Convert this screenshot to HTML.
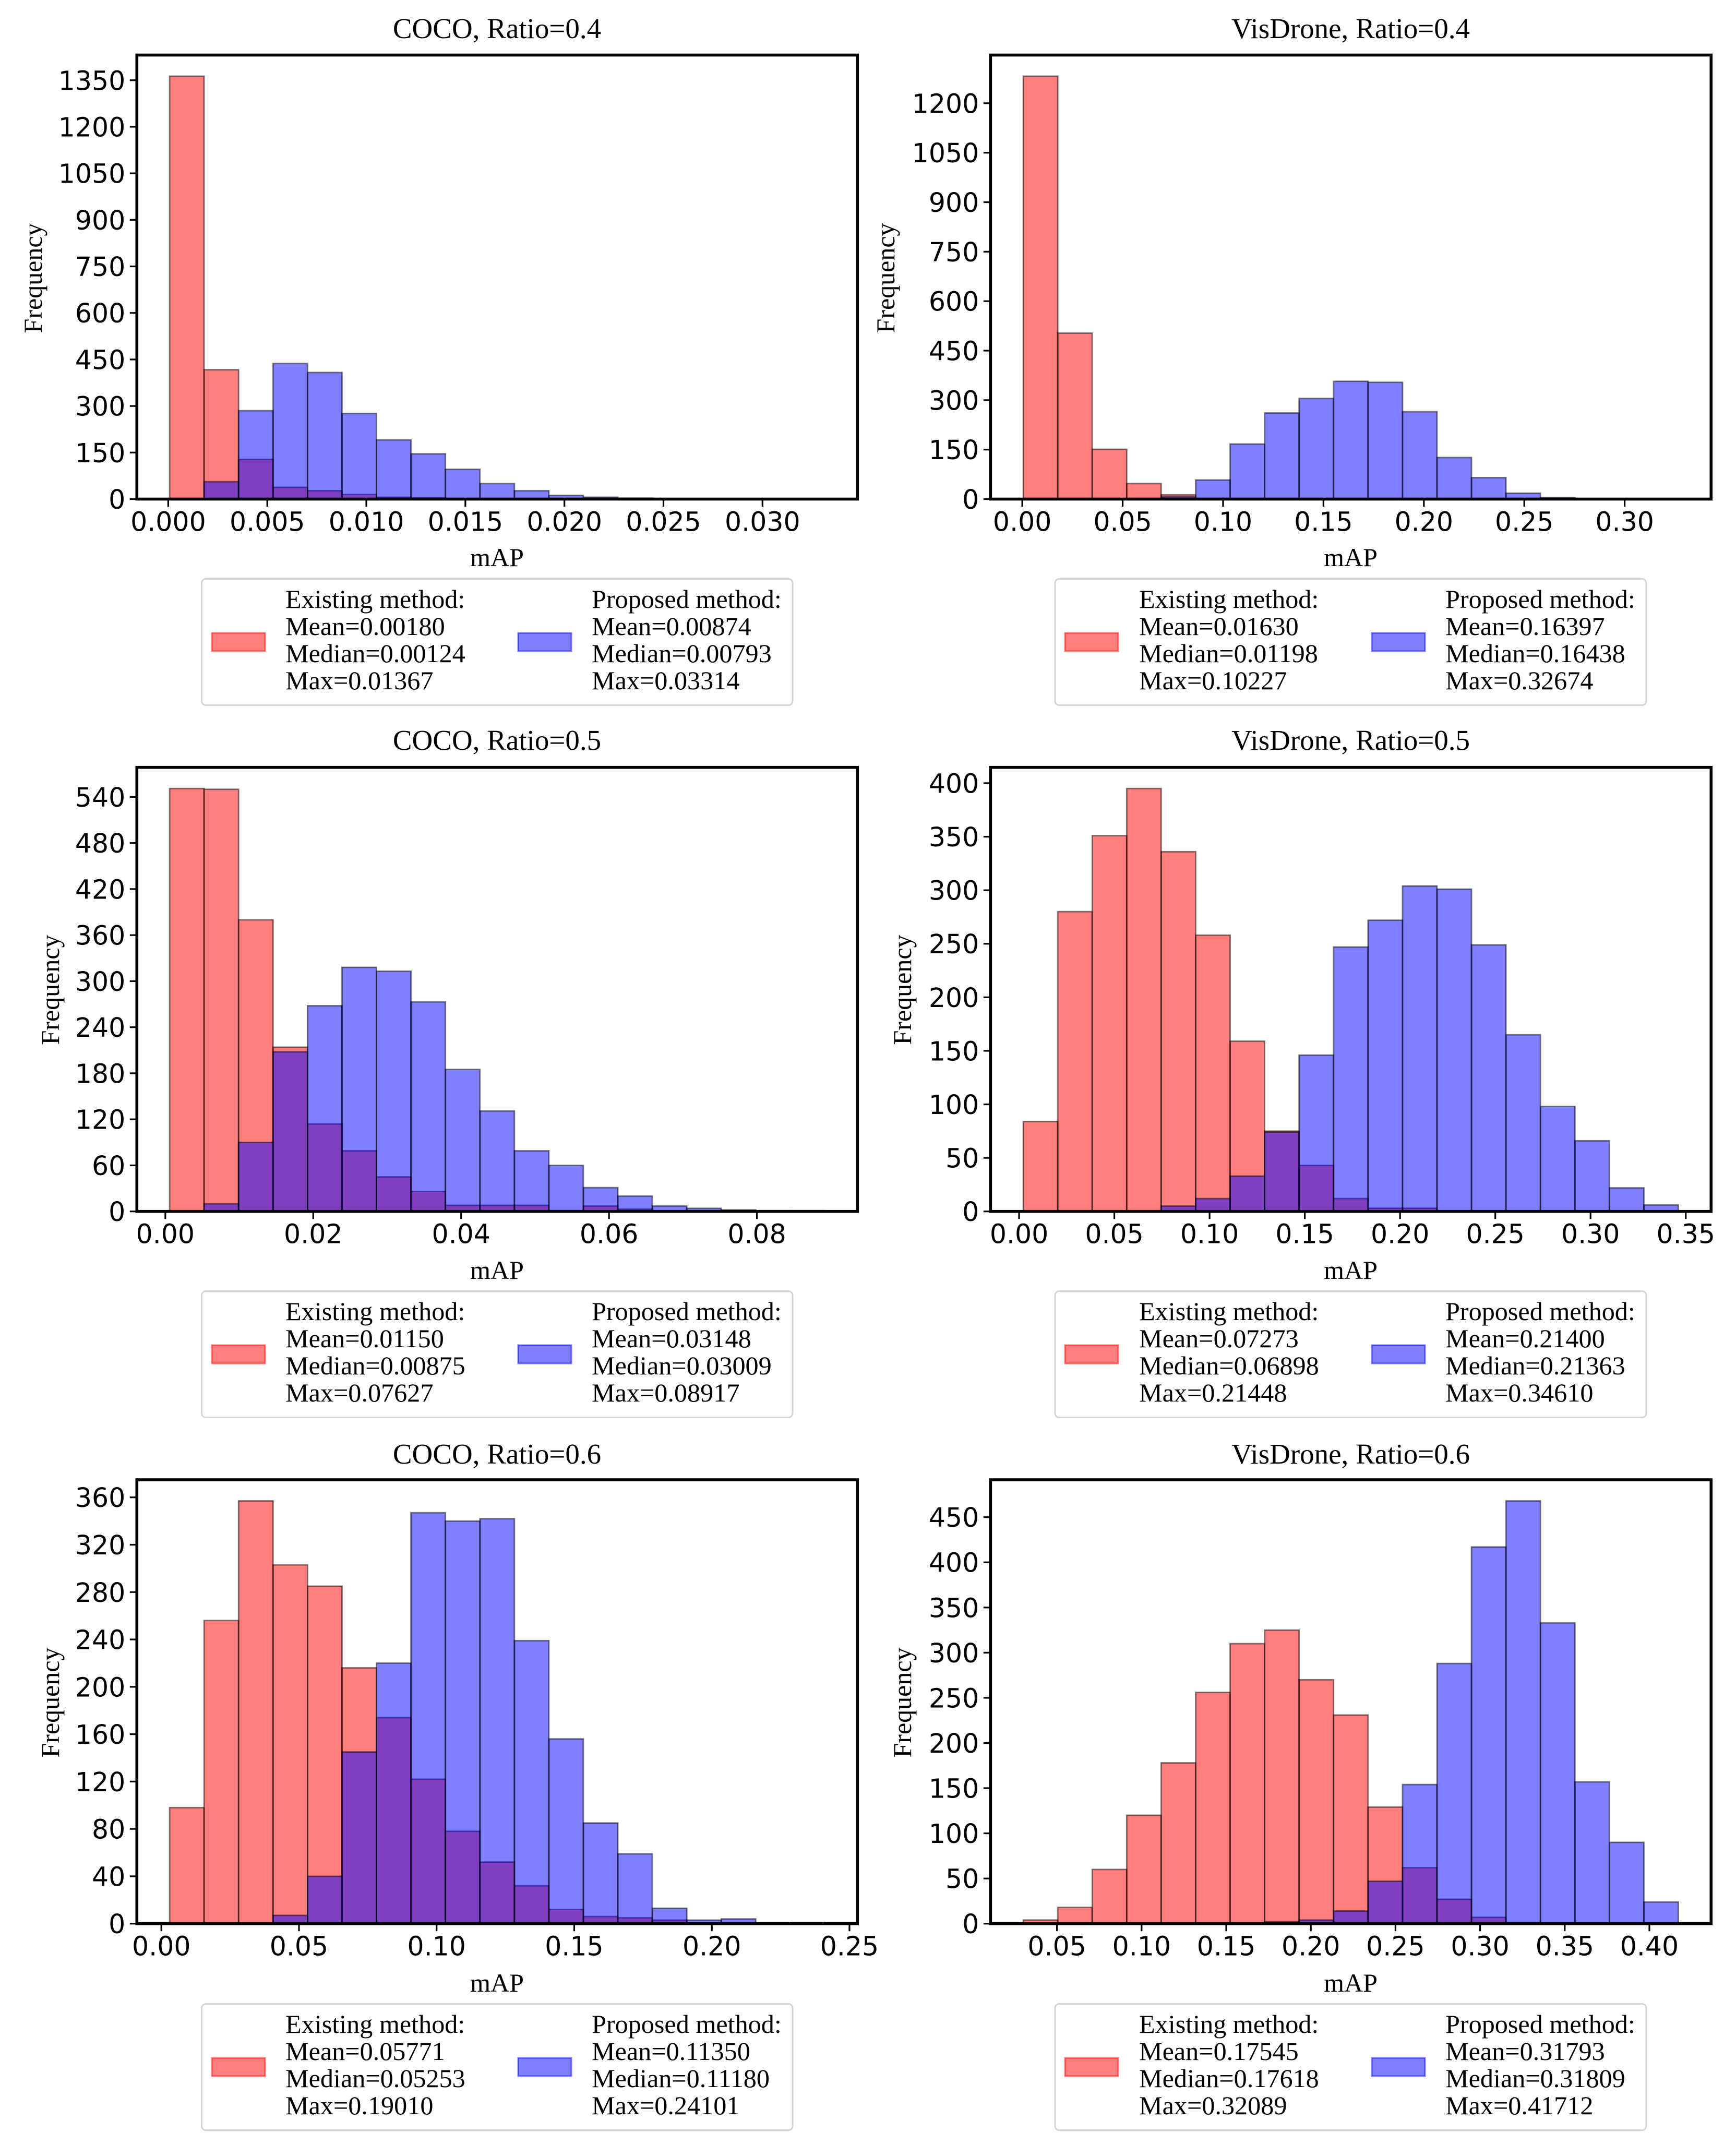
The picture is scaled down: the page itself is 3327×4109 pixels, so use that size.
<!DOCTYPE html>
<html lang="en">
<head>
<meta charset="utf-8">
<title>mAP histograms: COCO and VisDrone</title>
<style>
html,body{margin:0;padding:0;background:#fff;}
svg{display:block;}
.serif{font-family:"Liberation Serif",serif;fill:#000;}
.title{font-size:55px;text-anchor:middle;}
.axis-label{font-size:50px;}
.legend-text{font-size:50.2px;}
.tick{font-family:"DejaVu Sans",sans-serif;font-size:50.5px;fill:#000;}
.frame{fill:#fff;stroke:#d4d4d4;stroke-width:3;}
.patch-red{fill:rgba(255,0,0,.5);stroke:rgba(255,0,0,.5);stroke-width:3;}
.patch-blue{fill:rgba(0,0,255,.5);stroke:rgba(0,0,255,.5);stroke-width:3;}
</style>
</head>
<body>
<svg id="figure" xmlns="http://www.w3.org/2000/svg" width="3327" height="4109" viewBox="0 0 3327 4109">
<rect width="3327" height="4109" fill="#fff"/>

<g id="coco-04">
  <text class="serif title" x="952.5" y="73">COCO, Ratio=0.4</text>
  <text class="serif axis-label" x="952.5" y="1085" text-anchor="middle">mAP</text>
  <text class="serif axis-label" text-anchor="middle" transform="translate(80,533) rotate(-90)">Frequency</text>
  <g>
    <rect class="frame" x="386.5" y="1109.5" width="1132.5" height="242" rx="8"/>
    <g>
      <rect class="patch-red" x="406" y="1213" width="102" height="35"/>
      <text class="serif legend-text" x="547" y="1165">Existing method:</text>
      <text class="serif legend-text" x="547" y="1217">Mean=0.00180</text>
      <text class="serif legend-text" x="547" y="1269">Median=0.00124</text>
      <text class="serif legend-text" x="547" y="1321">Max=0.01367</text>
    </g>
    <g>
      <rect class="patch-blue" x="993" y="1213" width="102" height="35"/>
      <text class="serif legend-text" x="1134" y="1165">Proposed method:</text>
      <text class="serif legend-text" x="1134" y="1217">Mean=0.00874</text>
      <text class="serif legend-text" x="1134" y="1269">Median=0.00793</text>
      <text class="serif legend-text" x="1134" y="1321">Max=0.03314</text>
    </g>
  </g>
</g>

<g id="visdrone-04">
  <text class="serif title" x="2588.5" y="73">VisDrone, Ratio=0.4</text>
  <text class="serif axis-label" x="2588.5" y="1085" text-anchor="middle">mAP</text>
  <text class="serif axis-label" text-anchor="middle" transform="translate(1714,533) rotate(-90)">Frequency</text>
  <g>
    <rect class="frame" x="2022" y="1109.5" width="1133" height="242" rx="8"/>
    <g>
      <rect class="patch-red" x="2041" y="1213" width="102" height="35"/>
      <text class="serif legend-text" x="2183" y="1165">Existing method:</text>
      <text class="serif legend-text" x="2183" y="1217">Mean=0.01630</text>
      <text class="serif legend-text" x="2183" y="1269">Median=0.01198</text>
      <text class="serif legend-text" x="2183" y="1321">Max=0.10227</text>
    </g>
    <g>
      <rect class="patch-blue" x="2629" y="1213" width="102" height="35"/>
      <text class="serif legend-text" x="2770" y="1165">Proposed method:</text>
      <text class="serif legend-text" x="2770" y="1217">Mean=0.16397</text>
      <text class="serif legend-text" x="2770" y="1269">Median=0.16438</text>
      <text class="serif legend-text" x="2770" y="1321">Max=0.32674</text>
    </g>
  </g>
</g>

<g id="coco-05">
  <text class="serif title" x="952.5" y="1437">COCO, Ratio=0.5</text>
  <text class="serif axis-label" x="952.5" y="2451" text-anchor="middle">mAP</text>
  <text class="serif axis-label" text-anchor="middle" transform="translate(113,1897) rotate(-90)">Frequency</text>
  <g>
    <rect class="frame" x="386.5" y="2474.5" width="1132.5" height="242" rx="8"/>
    <g>
      <rect class="patch-red" x="406" y="2578" width="102" height="35"/>
      <text class="serif legend-text" x="547" y="2530">Existing method:</text>
      <text class="serif legend-text" x="547" y="2582">Mean=0.01150</text>
      <text class="serif legend-text" x="547" y="2634">Median=0.00875</text>
      <text class="serif legend-text" x="547" y="2686">Max=0.07627</text>
    </g>
    <g>
      <rect class="patch-blue" x="993" y="2578" width="102" height="35"/>
      <text class="serif legend-text" x="1134" y="2530">Proposed method:</text>
      <text class="serif legend-text" x="1134" y="2582">Mean=0.03148</text>
      <text class="serif legend-text" x="1134" y="2634">Median=0.03009</text>
      <text class="serif legend-text" x="1134" y="2686">Max=0.08917</text>
    </g>
  </g>
</g>

<g id="visdrone-05">
  <text class="serif title" x="2588.5" y="1437">VisDrone, Ratio=0.5</text>
  <text class="serif axis-label" x="2588.5" y="2451" text-anchor="middle">mAP</text>
  <text class="serif axis-label" text-anchor="middle" transform="translate(1746,1897) rotate(-90)">Frequency</text>
  <g>
    <rect class="frame" x="2022" y="2474.5" width="1133" height="242" rx="8"/>
    <g>
      <rect class="patch-red" x="2041" y="2578" width="102" height="35"/>
      <text class="serif legend-text" x="2183" y="2530">Existing method:</text>
      <text class="serif legend-text" x="2183" y="2582">Mean=0.07273</text>
      <text class="serif legend-text" x="2183" y="2634">Median=0.06898</text>
      <text class="serif legend-text" x="2183" y="2686">Max=0.21448</text>
    </g>
    <g>
      <rect class="patch-blue" x="2629" y="2578" width="102" height="35"/>
      <text class="serif legend-text" x="2770" y="2530">Proposed method:</text>
      <text class="serif legend-text" x="2770" y="2582">Mean=0.21400</text>
      <text class="serif legend-text" x="2770" y="2634">Median=0.21363</text>
      <text class="serif legend-text" x="2770" y="2686">Max=0.34610</text>
    </g>
  </g>
</g>

<g id="coco-06">
  <text class="serif title" x="952.5" y="2805">COCO, Ratio=0.6</text>
  <text class="serif axis-label" x="952.5" y="3817" text-anchor="middle">mAP</text>
  <text class="serif axis-label" text-anchor="middle" transform="translate(113,3263) rotate(-90)">Frequency</text>
  <g>
    <rect class="frame" x="386.5" y="3840.5" width="1132.5" height="242" rx="8"/>
    <g>
      <rect class="patch-red" x="406" y="3944" width="102" height="35"/>
      <text class="serif legend-text" x="547" y="3896">Existing method:</text>
      <text class="serif legend-text" x="547" y="3948">Mean=0.05771</text>
      <text class="serif legend-text" x="547" y="4000">Median=0.05253</text>
      <text class="serif legend-text" x="547" y="4052">Max=0.19010</text>
    </g>
    <g>
      <rect class="patch-blue" x="993" y="3944" width="102" height="35"/>
      <text class="serif legend-text" x="1134" y="3896">Proposed method:</text>
      <text class="serif legend-text" x="1134" y="3948">Mean=0.11350</text>
      <text class="serif legend-text" x="1134" y="4000">Median=0.11180</text>
      <text class="serif legend-text" x="1134" y="4052">Max=0.24101</text>
    </g>
  </g>
</g>

<g id="visdrone-06">
  <text class="serif title" x="2588.5" y="2805">VisDrone, Ratio=0.6</text>
  <text class="serif axis-label" x="2588.5" y="3817" text-anchor="middle">mAP</text>
  <text class="serif axis-label" text-anchor="middle" transform="translate(1746,3263) rotate(-90)">Frequency</text>
  <g>
    <rect class="frame" x="2022" y="3840.5" width="1133" height="242" rx="8"/>
    <g>
      <rect class="patch-red" x="2041" y="3944" width="102" height="35"/>
      <text class="serif legend-text" x="2183" y="3896">Existing method:</text>
      <text class="serif legend-text" x="2183" y="3948">Mean=0.17545</text>
      <text class="serif legend-text" x="2183" y="4000">Median=0.17618</text>
      <text class="serif legend-text" x="2183" y="4052">Max=0.32089</text>
    </g>
    <g>
      <rect class="patch-blue" x="2629" y="3944" width="102" height="35"/>
      <text class="serif legend-text" x="2770" y="3896">Proposed method:</text>
      <text class="serif legend-text" x="2770" y="3948">Mean=0.31793</text>
      <text class="serif legend-text" x="2770" y="4000">Median=0.31809</text>
      <text class="serif legend-text" x="2770" y="4052">Max=0.41712</text>
    </g>
  </g>
</g>
</svg>

<script>
// Histogram counts per bin (19 bins each)
const cocoR4Existing = [1363,417,128,38,27,15,6,4,1,0,0,0,0,0,0,0,0,0,0];
const cocoR4Proposed = [0,56,285,437,408,276,191,146,96,50,27,12,6,3,1,0,0,0,1];
const cocoR4BinRange = [0.00007,0.03314];
const cocoR4XTickLabels = ['0.000','0.005','0.010','0.015','0.020','0.025','0.030'];
const cocoR4YTickLabels = ['0','150','300','450','600','750','900','1050','1200','1350'];

const visR4Existing = [1282,503,151,47,13,2,0,0,0,0,0,0,0,0,0,0,0,0,0];
const visR4Proposed = [0,0,0,0,7,58,167,261,305,357,354,265,126,65,18,5,1,0,1];
const visR4BinRange = [0.0005,0.32674];
const visR4XTickLabels = ['0.00','0.05','0.10','0.15','0.20','0.25','0.30'];
const visR4YTickLabels = ['0','150','300','450','600','750','900','1050','1200'];

const cocoR5Existing = [551,550,380,214,114,79,45,26,8,8,8,1,7,3,0,1,1,0,0];
const cocoR5Proposed = [0,10,90,208,268,318,313,273,185,131,79,60,31,20,7,4,2,1,1];
const cocoR5BinRange = [0.00058,0.08917];
const cocoR5XTickLabels = ['0.00','0.02','0.04','0.06','0.08'];
const cocoR5YTickLabels = ['0','60','120','180','240','300','360','420','480','540'];

const visR5Existing = [84,280,351,395,336,258,159,75,43,12,3,3,0,0,0,0,0,0,0];
const visR5Proposed = [0,0,0,0,5,12,33,74,146,247,272,304,301,249,165,98,66,22,6];
const visR5BinRange = [0.0022,0.3461];
const visR5XTickLabels = ['0.00','0.05','0.10','0.15','0.20','0.25','0.30','0.35'];
const visR5YTickLabels = ['0','50','100','150','200','250','300','350','400'];

const cocoR6Existing = [98,256,357,303,285,216,174,122,78,52,32,12,6,5,3,1,0,0,0];
const cocoR6Proposed = [0,0,0,7,40,145,220,347,340,342,239,156,85,59,13,3,4,0,1];
const cocoR6BinRange = [0.003,0.24101];
const cocoR6XTickLabels = ['0.00','0.05','0.10','0.15','0.20','0.25'];
const cocoR6YTickLabels = ['0','40','80','120','160','200','240','280','320','360'];

const visR6Existing = [4,18,60,120,178,256,310,325,270,231,129,62,27,7,1,0,0,0,0];
const visR6Proposed = [0,0,0,0,0,0,0,2,4,14,47,154,288,417,468,333,157,90,24];
const visR6BinRange = [0.0301,0.41712];
const visR6XTickLabels = ['0.05','0.10','0.15','0.20','0.25','0.30','0.35','0.40'];
const visR6YTickLabels = ['0','50','100','150','200','250','300','350','400','450'];

const panels = [
  {id:'coco-04',col:0,row:0,existing:cocoR4Existing,proposed:cocoR4Proposed,range:cocoR4BinRange,xLabels:cocoR4XTickLabels,yLabels:cocoR4YTickLabels},
  {id:'visdrone-04',col:1,row:0,existing:visR4Existing,proposed:visR4Proposed,range:visR4BinRange,xLabels:visR4XTickLabels,yLabels:visR4YTickLabels},
  {id:'coco-05',col:0,row:1,existing:cocoR5Existing,proposed:cocoR5Proposed,range:cocoR5BinRange,xLabels:cocoR5XTickLabels,yLabels:cocoR5YTickLabels},
  {id:'visdrone-05',col:1,row:1,existing:visR5Existing,proposed:visR5Proposed,range:visR5BinRange,xLabels:visR5XTickLabels,yLabels:visR5YTickLabels},
  {id:'coco-06',col:0,row:2,existing:cocoR6Existing,proposed:cocoR6Proposed,range:cocoR6BinRange,xLabels:cocoR6XTickLabels,yLabels:cocoR6YTickLabels},
  {id:'visdrone-06',col:1,row:2,existing:visR6Existing,proposed:visR6Proposed,range:visR6BinRange,xLabels:visR6XTickLabels,yLabels:visR6YTickLabels}
];

const SVG_NS = 'http://www.w3.org/2000/svg';
const AXES_WIDTH = 1381;

function axesBox(p) {
  const left = 262.3 + p.col * 1636;
  const top = p.row === 0 ? 105.5 : (p.row === 1 ? 1470.7 : 2836);
  const bottom = p.row === 0 ? 956.5 : (p.row === 1 ? 2321.7 : 3686.7);
  return {left: left, right: left + AXES_WIDTH, top: top, bottom: bottom};
}

function make(tag, attrs) {
  const el = document.createElementNS(SVG_NS, tag);
  for (const k in attrs) el.setAttribute(k, attrs[k]);
  return el;
}

function drawBars(group, values, p, xOf, yOf, fill, box) {
  const binWidth = (p.range[1] - p.range[0]) / values.length;
  values.forEach(function (v, i) {
    const x0 = xOf(p.range[0] + i * binWidth);
    const x1 = xOf(p.range[0] + (i + 1) * binWidth);
    const yTop = yOf(v);
    const bar = make('rect', {x: x0, y: yTop, width: x1 - x0, height: box.bottom - yTop, fill: fill, 'fill-opacity': 0.5, stroke: '#000', 'stroke-opacity': 0.5, 'stroke-width': 2.8});
    
    
    group.appendChild(bar);
  });
}

panels.forEach(function (p) {
  const box = axesBox(p);
  const group = document.getElementById(p.id);
  const span = p.range[1] - p.range[0];
  const xMin = p.range[0] - span * 0.05;
  const xMax = p.range[1] + span * 0.05;
  const yMax = Math.max.apply(null, p.existing.concat(p.proposed)) * 1.05;
  const xOf = function (v) { return box.left + (v - xMin) / (xMax - xMin) * AXES_WIDTH; };
  const yOf = function (v) { return box.bottom - v / yMax * (box.bottom - box.top); };

  const plot = make('g', {});
  
  
  group.appendChild(plot);

  drawBars(plot, p.existing, p, xOf, yOf, '#ff0000', box);
  drawBars(plot, p.proposed, p, xOf, yOf, '#0000ff', box);

  p.xLabels.forEach(function (label) {
    const x = xOf(parseFloat(label));
    const mark = make('line', {x1: x, x2: x, y1: box.bottom, y2: box.bottom + 14.5, stroke: '#000', 'stroke-width': 3.2});
    
    
    group.appendChild(mark);
    const text = make('text', {x: x, y: box.bottom + 61, 'text-anchor': 'middle', 'class': 'tick'});
    
    
    text.textContent = label;
    group.appendChild(text);
  });

  p.yLabels.forEach(function (label) {
    const y = yOf(parseFloat(label));
    const mark = make('line', {x1: box.left - 13.5, x2: box.left, y1: y, y2: y, stroke: '#000', 'stroke-width': 3.2});
    
    
    group.appendChild(mark);
    const text = make('text', {x: box.left - 22, y: y + 18.5, 'text-anchor': 'end', 'class': 'tick'});
    
    
    text.textContent = label;
    group.appendChild(text);
  });

  const spines = make('rect', {x: box.left, y: box.top, width: AXES_WIDTH, height: box.bottom - box.top, fill: 'none', stroke: '#000', 'stroke-width': 5.6});
  
  
  group.appendChild(spines);
});
</script>
</body>
</html>
